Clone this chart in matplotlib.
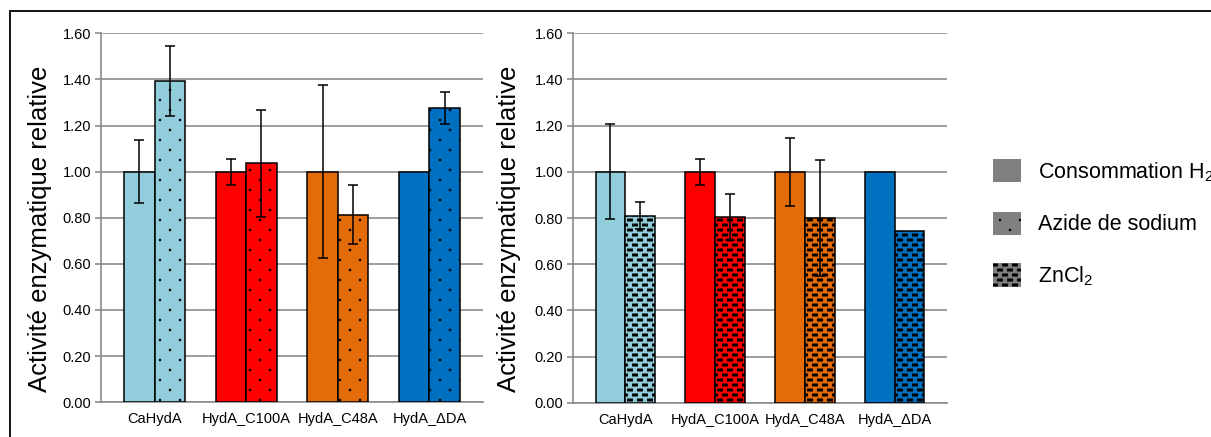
import numpy as np
import matplotlib
matplotlib.use("Agg")
import matplotlib.pyplot as plt
import matplotlib.hatch as mhatch
from matplotlib.path import Path
from matplotlib.patches import Patch, Rectangle

# ---------------- data ----------------
groups = ["CaHydA", "HydA_C100A", "HydA_C48A", "HydA_\u0394DA"]

h2_left = [1.00, 1.00, 1.00, 1.00]
h2_left_err = [0.138, 0.056, 0.376, None]
azide = [1.393, 1.036, 0.812, 1.277]
azide_err = [0.150, 0.233, 0.128, 0.070]

h2_right = [1.00, 1.00, 1.00, 1.00]
h2_right_err = [0.206, 0.057, 0.148, None]
zncl2 = [0.810, 0.803, 0.800, 0.742]
zncl2_err = [0.058, 0.100, 0.252, None]

bar_colors = ["#92CDDC", "#FF0000", "#E36C09", "#0070C0"]
legend_labels = ["Consommation H$_2$", "Azide de sodium", "ZnCl$_2$"]
ylabel = "Activit\u00e9 enzymatique relative"
yticks = [0.0, 0.2, 0.4, 0.6, 0.8, 1.0, 1.2, 1.4, 1.6]


# ---------------- custom hatch patterns ----------------
class _Lattice(mhatch.HatchPatternBase):
    char = "."
    nx, ny = 5, 10
    hw, hh = 0.009, 0.009
    octagon = True

    def __init__(self, hatch, density):
        n = hatch.count(self.char) if hatch else 0
        self.cells = []
        if n:
            for j in range(-1, self.ny + 2):
                y = j / self.ny
                shift = 0.5 / self.nx if j % 2 else 0.0
                for i in range(-1, self.nx + 2):
                    self.cells.append((i / self.nx + shift, y))
        if self.octagon:
            a = np.linspace(0, 2 * np.pi, 9)[:-1] + np.pi / 8
            shp = np.column_stack([np.cos(a) * self.hw, np.sin(a) * self.hh])
        else:
            shp = np.array([[-self.hw, -self.hh], [self.hw, -self.hh],
                            [self.hw, self.hh], [-self.hw, self.hh]])
        self.shape = np.vstack([shp, shp[:1]])
        self.num_vertices = len(self.cells) * len(self.shape)

    def set_vertices_and_codes(self, vertices, codes):
        k = len(self.shape)
        sc = np.full(k, Path.LINETO, dtype=Path.code_type)
        sc[0] = Path.MOVETO
        sc[-1] = Path.CLOSEPOLY
        for idx, (cx, cy) in enumerate(self.cells):
            vertices[idx * k:(idx + 1) * k] = self.shape + (cx, cy)
            codes[idx * k:(idx + 1) * k] = sc


class DotLattice(_Lattice):
    char = "."
    nx, ny = 5, 10
    hw, hh = 0.010, 0.010
    octagon = True


class DashLattice(_Lattice):
    char = "*"
    nx, ny = 10, 20
    hw, hh = 0.027, 0.011
    octagon = False


mhatch._hatch_types[:] = [t for t in mhatch._hatch_types
                          if t not in (mhatch.SmallFilledCircles, mhatch.Stars)]
mhatch._hatch_types += [DotLattice, DashLattice]

# ---------------- style ----------------
plt.rcParams["font.family"] = ["Liberation Sans", "DejaVu Sans"]
plt.rcParams["mathtext.fontset"] = "custom"
plt.rcParams["mathtext.rm"] = "Liberation Sans"
plt.rcParams["mathtext.it"] = "Liberation Sans:italic"
plt.rcParams["hatch.linewidth"] = 0.5
plt.rcParams["hatch.color"] = "black"

W, H = 1211, 437
fig = plt.figure(figsize=(W / 100, H / 100), dpi=100)

grid_col = "#8C8C8C"
bw = 0.334


def make_axes(left_px, right_px, top_px, bottom_px):
    return fig.add_axes([left_px / W, 1 - bottom_px / H,
                         (right_px - left_px) / W, (bottom_px - top_px) / H])


def draw_panel(ax, v1, e1, v2, e2, hatch2, label_x):
    x = np.arange(len(groups))
    ax.bar(x - bw / 2, v1, bw, color=bar_colors, edgecolor="black",
           linewidth=1.1, zorder=3)
    ax.bar(x + bw / 2, v2, bw, color=bar_colors, edgecolor="black",
           linewidth=1.1, hatch=hatch2, zorder=3)
    for xs, vals, errs in ((x - bw / 2, v1, e1), (x + bw / 2, v2, e2)):
        sel = [i for i, e in enumerate(errs) if e is not None]
        ax.errorbar([xs[i] for i in sel], [vals[i] for i in sel],
                    yerr=[errs[i] for i in sel], fmt="none", ecolor="black",
                    elinewidth=1.1, capsize=3.8, capthick=1.1, zorder=4)
    ax.set_xlim(-0.585, 3.585)
    ax.set_ylim(0, 1.6)
    ax.set_yticks(yticks)
    ax.set_yticklabels([f"{t:.2f}" for t in yticks])
    ax.set_xticks(x)
    ax.set_xticklabels(groups)
    ax.yaxis.grid(True, color=grid_col, linewidth=1.2, zorder=0)
    ax.set_axisbelow(True)
    for s in ("top", "right"):
        ax.spines[s].set_visible(False)
    for s in ("left", "bottom"):
        ax.spines[s].set_color(grid_col)
        ax.spines[s].set_linewidth(1.2)
    ax.tick_params(axis="y", direction="out", length=4.5, width=1.2,
                   color=grid_col, labelsize=10.5, pad=2.5)
    ax.tick_params(axis="x", length=0, labelsize=10.5, pad=7)
    ax.set_ylabel(ylabel, fontsize=18.5)
    ax.yaxis.set_label_coords(label_x, 0.47)


ax1 = make_axes(101, 483, 33.3, 402.2)
draw_panel(ax1, h2_left, h2_left_err, azide, azide_err, "..", -0.128)

ax2 = make_axes(573, 947, 33.3, 402.8)
draw_panel(ax2, h2_right, h2_right_err, zncl2, zncl2_err, "**", -0.139)

# legend
leg_handles = [
    Patch(facecolor="#808080", edgecolor="black", linewidth=0),
    Patch(facecolor="#808080", edgecolor="black", linewidth=0, hatch="."),
    Patch(facecolor="#808080", edgecolor="black", linewidth=0, hatch="*"),
]
fig.legend(leg_handles, legend_labels, loc="upper left",
           bbox_to_anchor=(993 / W, 1 - 159 / H), frameon=False,
           fontsize=15.5, handlelength=1.3, handleheight=1.3,
           handletextpad=0.78, labelspacing=1.3, borderpad=0,
           borderaxespad=0)

# outer frame (chart area border, cropped right/bottom)
fig.add_artist(Rectangle((10 / W, -0.2), 1.2, 1.2 - 11 / H,
                         transform=fig.transFigure, fill=False,
                         edgecolor="black", linewidth=1.3, zorder=10))

fig.savefig("out.png", dpi=100)
